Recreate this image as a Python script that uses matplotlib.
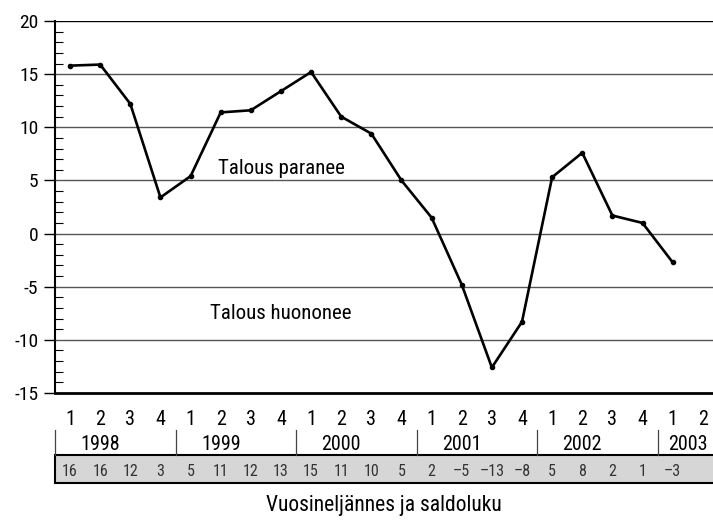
import matplotlib
matplotlib.use("Agg")
import matplotlib.pyplot as plt
from matplotlib import font_manager as fm
from matplotlib.patches import Rectangle
from matplotlib.ticker import MultipleLocator

# pick a condensed face if one is around
installed = {f.name for f in fm.fontManager.ttflist}
candidates = ["Roboto Condensed", "Archivo Narrow", "PT Sans Narrow",
              "Liberation Sans Narrow", "Fira Sans Condensed",
              "IBM Plex Sans Condensed", "Asap Condensed", "Encode Sans Condensed"]
family = [c for c in candidates if c in installed][:1] + ["DejaVu Sans"]
plt.rcParams['font.family'] = family
plt.rcParams['axes.unicode_minus'] = False

# saldoluku per quarter, 1998Q1 .. 2003Q1
saldo = [15.8, 15.9, 12.2, 3.4, 5.4, 11.4, 11.6, 13.4, 15.2, 11.0, 9.4,
         5.0, 1.5, -4.8, -12.6, -8.3, 5.3, 7.6, 1.7, 1.0, -2.7]
quarters = ["1", "2", "3", "4"] * 5 + ["1", "2"]
years = ["1998", "1999", "2000", "2001", "2002", "2003"]
band_labels = ["16", "16", "12", "3", "5", "11", "12", "13", "15", "11", "10",
               "5", "2", "\u20135", "\u201313", "\u20138", "5", "8", "2", "1", "\u20133"]

fig = plt.figure(figsize=(7.13, 5.23), dpi=100)
ax = fig.add_axes([55 / 713, 1 - 393 / 523, (713 - 55) / 713, 372 / 523])

xs = list(range(len(saldo)))
ax.plot(xs, saldo, color="black", lw=1.9, marker="o", ms=3, zorder=3)

ax.set_xlim(-0.5, 21.34)
ax.set_ylim(-15, 20)
ax.yaxis.set_major_locator(MultipleLocator(5))
ax.yaxis.set_minor_locator(MultipleLocator(1))
ax.tick_params(axis="y", which="major", direction="out", length=8, width=1,
               labelsize=14, pad=4)
ax.tick_params(axis="y", which="minor", direction="in", length=6, width=0.8)
for v in range(-10, 21, 5):
    ax.axhline(v, color="#555555" if v < 20 else "black", lw=1, zorder=1)

ax.set_xticks(range(len(quarters)))
ax.set_xticklabels(quarters)
ax.tick_params(axis="x", length=0, labelsize=14.5, pad=12)

for s in ["top", "right"]:
    ax.spines[s].set_visible(False)
ax.spines["left"].set_linewidth(1.5)
ax.spines["bottom"].set_linewidth(2)

xt = ax.get_xaxis_transform()
# year row
for k, yr in enumerate(years):
    x0 = -0.5 + 4 * k
    ax.plot([x0, x0], [-0.0995, -0.1667], transform=xt, color="#444444",
            lw=0.9, clip_on=False)
    xc = x0 + 1.5 if k < 5 else x0 + 1.0
    ax.text(xc, -0.138, yr, transform=xt, ha="center", va="center",
            fontsize=14.5, clip_on=False)

# saldoluku band
band = Rectangle((-0.5, -0.242), 30, 0.0755, transform=xt, facecolor="#d6d6d6",
                 edgecolor="black", lw=1.5, clip_on=False)
ax.add_patch(band)
for i, lab in enumerate(band_labels):
    ax.text(i, -0.212, lab, transform=xt, ha="center", va="center",
            fontsize=11.5, color="#333333", clip_on=False)

ax.text(7.0, 5.2, "Talous paranee", ha="center", va="bottom", fontsize=15)
ax.text(7.0, -7.5, "Talous huononee", ha="center", va="center", fontsize=15)

fig.text(384 / 713, 1 - 505 / 523, "Vuosineljännes ja saldoluku", ha="center",
         va="center", fontsize=15.5)

fig.savefig("out.png", dpi=100)
